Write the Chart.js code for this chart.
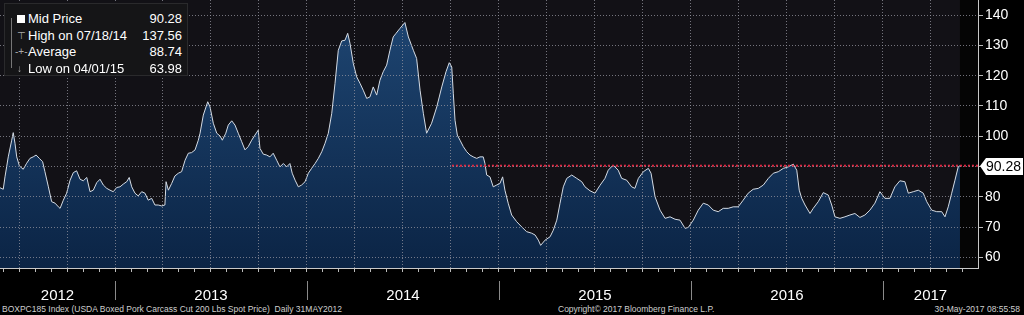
<!DOCTYPE html>
<html>
<head>
<meta charset="utf-8">
<script src="https://cdn.jsdelivr.net/npm/chart.js@4"></script>
<style>
  body { margin: 0; background: #000; width: 1024px; height: 315px; overflow: hidden; position: relative; font-family: "Liberation Sans", Arial, sans-serif; }
  #wrap { position: absolute; left: 0; top: 0; width: 1024px; height: 300px; }
  #legend { position: absolute; left: 4px; top: 3px; width: 182px; height: 71px; background: #151517; border: 1px solid #2a2a2c; color: #fff; font-size: 13px; }
  #legend .row { position: absolute; left: 0; width: 177px; height: 16px; line-height: 16px; }
  #legend .lb { position: absolute; left: 23px; }
  #legend .val { position: absolute; right: 0; }
  #legend .ic { position: absolute; left: 12px; color: #aaa; font-size: 10px; }
  #tree { position: absolute; left: 6px; top: 14px; width: 4px; height: 50px; border-left: 1px solid #777; }
  #footer { position: absolute; left: 0; top: 304px; width: 1024px; height: 11px; color: #cfcfcf; font-size: 8.5px; white-space: pre; }
  #footer span { position: absolute; top: 0; }
</style>
</head>
<body>
<div id="wrap"><canvas id="chart"></canvas></div>
<div id="legend">
  <div id="tree"></div>
  <div class="row" style="top:7px"><span class="ic" style="left:12px;top:4px;width:8px;height:8px;background:#fff"></span><span class="lb">Mid Price</span><span class="val" id="vMid"></span></div>
  <div class="row" style="top:23.5px"><span class="ic">⊤</span><span class="lb" id="lHigh"></span><span class="val" id="vHigh"></span></div>
  <div class="row" style="top:40px"><span class="ic" style="left:10px">-+-</span><span class="lb">Average</span><span class="val" id="vAvg"></span></div>
  <div class="row" style="top:56.5px"><span class="ic">↓</span><span class="lb" id="lLow"></span><span class="val" id="vLow"></span></div>
</div>
<div id="footer">
  <span style="left:2px">BOXPC185 Index (USDA Boxed Pork Carcass Cut 200 Lbs Spot Price)  Daily 31MAY2012</span>
  <span style="left:558px">Copyright© 2017 Bloomberg Finance L.P.</span>
  <span style="right:4px">30-May-2017 08:55:58</span>
</div>
<script>
// dates as decimal years, weekly-ish samples
const dates = [
  2012.401, 2012.418, 2012.427, 2012.444, 2012.462, 2012.470, 2012.479, 2012.488, 2012.502, 2012.522,
  2012.540, 2012.557, 2012.574, 2012.589, 2012.606, 2012.623, 2012.635, 2012.653, 2012.670, 2012.688,
  2012.705, 2012.714, 2012.731, 2012.748, 2012.766, 2012.783, 2012.800, 2012.818, 2012.835, 2012.853,
  2012.870, 2012.887, 2012.905, 2012.922, 2012.939, 2012.957, 2012.974, 2012.991, 2013.009, 2013.026,
  2013.043, 2013.061, 2013.074, 2013.087, 2013.104, 2013.121, 2013.139, 2013.156, 2013.173, 2013.191,
  2013.208, 2013.225, 2013.243, 2013.260, 2013.266, 2013.278, 2013.295, 2013.312, 2013.330, 2013.347,
  2013.365, 2013.382, 2013.399, 2013.417, 2013.434, 2013.443, 2013.460, 2013.483, 2013.495, 2013.512,
  2013.530, 2013.547, 2013.559, 2013.577, 2013.590, 2013.608, 2013.625, 2013.642, 2013.660, 2013.677,
  2013.694, 2013.712, 2013.729, 2013.746, 2013.755, 2013.772, 2013.790, 2013.807, 2013.824, 2013.842,
  2013.859, 2013.877, 2013.894, 2013.911, 2013.923, 2013.938, 2013.955, 2013.972, 2013.990, 2014.007,
  2014.024, 2014.042, 2014.059, 2014.077, 2014.094, 2014.111, 2014.129, 2014.146, 2014.163, 2014.181,
  2014.198, 2014.212, 2014.224, 2014.241, 2014.259, 2014.276, 2014.293, 2014.311, 2014.328, 2014.345,
  2014.363, 2014.380, 2014.397, 2014.415, 2014.432, 2014.449, 2014.464, 2014.484, 2014.510, 2014.528,
  2014.554, 2014.571, 2014.589, 2014.606, 2014.623, 2014.649, 2014.676, 2014.702, 2014.724, 2014.741,
  2014.754, 2014.762, 2014.771, 2014.783, 2014.797, 2014.814, 2014.832, 2014.849, 2014.866, 2014.884,
  2014.901, 2014.918, 2014.927, 2014.936, 2014.953, 2014.970, 2014.988, 2015.005, 2015.019, 2015.031,
  2015.048, 2015.066, 2015.092, 2015.118, 2015.144, 2015.170, 2015.188, 2015.205, 2015.217, 2015.240,
  2015.266, 2015.283, 2015.301, 2015.318, 2015.335, 2015.353, 2015.379, 2015.405, 2015.431, 2015.448,
  2015.474, 2015.500, 2015.526, 2015.552, 2015.569, 2015.595, 2015.621, 2015.639, 2015.665, 2015.691,
  2015.708, 2015.726, 2015.752, 2015.778, 2015.792, 2015.813, 2015.839, 2015.865, 2015.891, 2015.917,
  2015.943, 2015.969, 2015.986, 2016.012, 2016.038, 2016.064, 2016.090, 2016.116, 2016.142, 2016.168,
  2016.194, 2016.220, 2016.246, 2016.272, 2016.298, 2016.324, 2016.351, 2016.377, 2016.403, 2016.429,
  2016.455, 2016.481, 2016.507, 2016.533, 2016.551, 2016.564, 2016.577, 2016.594, 2016.620, 2016.637,
  2016.663, 2016.689, 2016.715, 2016.733, 2016.750, 2016.776, 2016.802, 2016.828, 2016.854, 2016.880,
  2016.906, 2016.932, 2016.958, 2016.984, 2017.010, 2017.036, 2017.062, 2017.088, 2017.114, 2017.132,
  2017.158, 2017.184, 2017.210, 2017.228, 2017.254, 2017.280, 2017.306, 2017.323, 2017.340, 2017.358,
  2017.375, 2017.392, 2017.401
];
const prices = [
  83.0, 82.5, 86.6, 93.2, 98.7, 101.2, 97.7, 93.2, 90.2, 89.1,
  91.1, 92.7, 93.2, 93.8, 92.7, 91.6, 88.3, 83.3, 78.4, 77.9,
  76.7, 76.2, 78.9, 81.2, 85.5, 88.0, 88.6, 85.8, 85.3, 86.4,
  81.7, 82.2, 84.7, 85.8, 83.9, 82.8, 82.2, 81.7, 83.1, 83.3,
  84.2, 85.0, 86.4, 83.3, 81.2, 80.3, 81.7, 81.2, 78.9, 79.5,
  77.3, 77.3, 77.0, 77.3, 85.0, 82.2, 84.4, 86.9, 87.8, 88.3,
  92.1, 94.4, 94.6, 95.5, 98.7, 101.0, 107.0, 111.4, 109.7, 104.3,
  101.0, 100.1, 98.7, 101.0, 103.7, 105.1, 103.7, 101.0, 98.2, 95.5,
  96.6, 98.7, 100.4, 102.0, 96.0, 94.1, 93.8, 93.2, 94.4, 92.1,
  89.9, 91.0, 89.9, 91.0, 87.8, 85.5, 83.3, 83.9, 85.0, 87.8,
  89.4, 91.0, 92.7, 94.9, 97.7, 101.0, 107.6, 117.5, 128.4, 131.5,
  131.7, 134.0, 130.7, 124.1, 119.6, 117.5, 115.2, 112.5, 113.0, 116.3,
  113.6, 118.5, 121.3, 123.5, 128.4, 132.8, 134.0, 135.6, 137.56, 132.8,
  128.4, 125.7, 115.2, 107.6, 101.0, 104.3, 109.7, 116.3, 121.3, 124.3,
  122.9, 114.2, 105.3, 100.4, 98.7, 96.6, 94.9, 93.8, 93.2, 92.7,
  93.2, 93.2, 91.0, 87.2, 86.6, 83.3, 83.9, 84.4, 86.6, 82.2,
  77.9, 74.0, 71.8, 70.1, 68.5, 68.0, 67.4, 65.7, 63.98, 65.7,
  66.8, 69.0, 72.3, 77.9, 83.3, 86.1, 87.2, 86.1, 85.0, 83.3,
  82.0, 81.2, 83.8, 86.1, 88.8, 90.5, 88.8, 86.1, 85.5, 83.3,
  82.8, 86.1, 88.3, 89.4, 87.8, 80.0, 75.6, 72.9, 73.4, 72.6,
  72.3, 69.6, 69.9, 72.3, 75.6, 77.9, 77.3, 75.6, 75.1, 76.2,
  76.2, 76.7, 76.7, 78.9, 81.2, 82.5, 82.8, 83.9, 86.1, 87.8,
  88.3, 89.4, 89.9, 90.8, 88.8, 82.2, 79.5, 77.3, 74.5, 76.2,
  78.4, 81.4, 80.6, 77.3, 73.4, 72.9, 73.4, 74.0, 74.5, 73.2,
  74.0, 75.6, 77.9, 81.7, 79.5, 79.5, 83.3, 85.3, 85.0, 81.2,
  81.7, 82.2, 81.2, 78.4, 75.6, 75.1, 75.1, 73.4, 76.7, 81.2,
  85.5, 89.9, 90.28
];
const yTicks = [60, 70, 80, 90, 100, 110, 120, 130, 140];
const yearLabels = ['2012', '2013', '2014', '2015', '2016', '2017'];
const lastPrice = 90.28;
const highPrice = 137.56, highDate = '07/18/14';
const avgPrice = 88.74;
const lowPrice = 63.98, lowDate = '04/01/15';
const refLineStart = 2014.755;

const xMin = 2012.401, xMax = 2017.495;
const yMin = 56.5, yMax = 145;

document.getElementById('vMid').textContent = lastPrice.toFixed(2);
document.getElementById('lHigh').textContent = 'High on ' + highDate;
document.getElementById('vHigh').textContent = highPrice.toFixed(2);
document.getElementById('vAvg').textContent = avgPrice.toFixed(2);
document.getElementById('lLow').textContent = 'Low on ' + lowDate;
document.getElementById('vLow').textContent = lowPrice.toFixed(2);

const gridColor = 'rgba(150,150,160,0.75)';
const noPad = s => { s.paddingTop = 0; s.paddingBottom = 0; s.paddingLeft = 0; s.paddingRight = 0; };

// plot background + empty area after the last price
const backdrop = {
  id: 'backdrop',
  beforeDraw(chart) {
    const { ctx, chartArea: a } = chart;
    ctx.save();
    ctx.fillStyle = '#000';
    ctx.fillRect(0, 0, chart.width, chart.height);
    ctx.fillStyle = '#121116';
    ctx.fillRect(a.left, a.top, a.right - a.left, a.bottom - a.top);
    const xe = chart.scales.x.getPixelForValue(dates[dates.length - 1]);
    ctx.fillStyle = '#050505';
    ctx.fillRect(xe, a.top, a.right - xe, a.bottom - a.top);
    ctx.restore();
  }
};

// year separators and last price tag
const decorations = {
  id: 'decorations',
  afterDraw(chart) {
    const { ctx } = chart;
    const xs = chart.scales.x;
    ctx.save();
    ctx.strokeStyle = '#8a8a8a';
    ctx.lineWidth = 1;
    for (let yr = Math.ceil(xMin); yr <= Math.floor(xMax); yr++) {
      const px = Math.round(xs.getPixelForValue(yr)) + 0.5;
      ctx.beginPath();
      ctx.moveTo(px, 281);
      ctx.lineTo(px, 300);
      ctx.stroke();
    }
    const ys = chart.scales.y;
    const y = Math.round(ys.getPixelForValue(lastPrice));
    const x0 = ys.left + 2;
    ctx.fillStyle = '#fff';
    ctx.beginPath();
    ctx.moveTo(x0, y);
    ctx.lineTo(x0 + 6, y - 8);
    ctx.lineTo(x0 + 43, y - 8);
    ctx.lineTo(x0 + 43, y + 9);
    ctx.lineTo(x0 + 6, y + 9);
    ctx.closePath();
    ctx.fill();
    ctx.fillStyle = '#000';
    ctx.font = '14px "Liberation Sans", Arial, sans-serif';
    ctx.textBaseline = 'middle';
    ctx.fillText(lastPrice.toFixed(2), x0 + 6, y + 1);
    ctx.restore();
  }
};

const ctx = document.getElementById('chart').getContext('2d');
new Chart(ctx, {
  type: 'line',
  data: {
    datasets: [
      {
        data: [{ x: refLineStart, y: lastPrice }, { x: xMax, y: lastPrice }],
        borderColor: '#e02a44',
        borderWidth: 2,
        borderDash: [2, 2],
        pointRadius: 0,
        fill: false
      },
      {
        label: 'Mid Price',
        data: dates.map((d, i) => ({ x: d, y: prices[i] })),
        borderColor: '#d4dbe4',
        borderWidth: 1,
        pointRadius: 0,
        tension: 0,
        fill: 'start',
        backgroundColor: c => {
          const a = c.chart.chartArea;
          if (!a) return '#123058';
          const g = c.chart.ctx.createLinearGradient(0, a.top, 0, a.bottom);
          g.addColorStop(0, '#1f4774');
          g.addColorStop(1, '#0b2445');
          return g;
        }
      }
    ]
  },
  options: {
    responsive: true,
    maintainAspectRatio: false,
    animation: false,
    layout: { padding: 0 },
    plugins: { legend: { display: false }, tooltip: { enabled: false } },
    scales: {
      x: {
        type: 'linear',
        position: 'bottom',
        min: xMin,
        max: xMax,
        afterBuildTicks: s => {
          const t = [];
          for (let m = Math.ceil(xMin * 12); m <= Math.floor(xMax * 12); m++) t.push({ value: m / 12 });
          s.ticks = t;
        },
        afterFit: s => { s.height = 6; noPad(s); },
        ticks: { display: false },
        grid: {
          z: 1,
          color: c => (c.tick && Math.round(c.tick.value * 12) % 3 === 0) ? gridColor : 'rgba(0,0,0,0)',
          tickColor: '#bbb',
          tickLength: 4,
          lineWidth: 1
        },
        border: { color: '#c8c8c8', width: 1, dash: [1, 2], z: 1 }
      },
      yr: {
        type: 'linear',
        position: 'bottom',
        min: xMin,
        max: xMax,
        afterBuildTicks: s => {
          s.ticks = yearLabels.map(l => {
            const yr = +l;
            return { value: (Math.max(yr, xMin) + Math.min(yr + 1, xMax)) / 2 };
          });
        },
        afterFit: s => { s.height = 26; noPad(s); },
        ticks: {
          autoSkip: false,
          maxRotation: 0,
          color: '#fff',
          padding: 5,
          font: { family: '"Liberation Sans", Arial, sans-serif', size: 15 },
          callback: (v, i) => yearLabels[i]
        },
        grid: { display: false },
        border: { display: false }
      },
      y: {
        position: 'right',
        min: yMin,
        max: yMax,
        afterBuildTicks: s => { s.ticks = yTicks.map(v => ({ value: v })); },
        afterFit: s => { s.width = 46; noPad(s); },
        ticks: {
          color: '#fff',
          padding: 2,
          font: { family: '"Liberation Sans", Arial, sans-serif', size: 14 }
        },
        grid: {
          z: 1,
          color: gridColor,
          tickColor: '#bbb',
          tickLength: 5
        },
        border: { color: '#c8c8c8', width: 1, dash: [1, 2], z: 1 }
      }
    }
  },
  plugins: [backdrop, decorations]
});
</script>
</body>
</html>
